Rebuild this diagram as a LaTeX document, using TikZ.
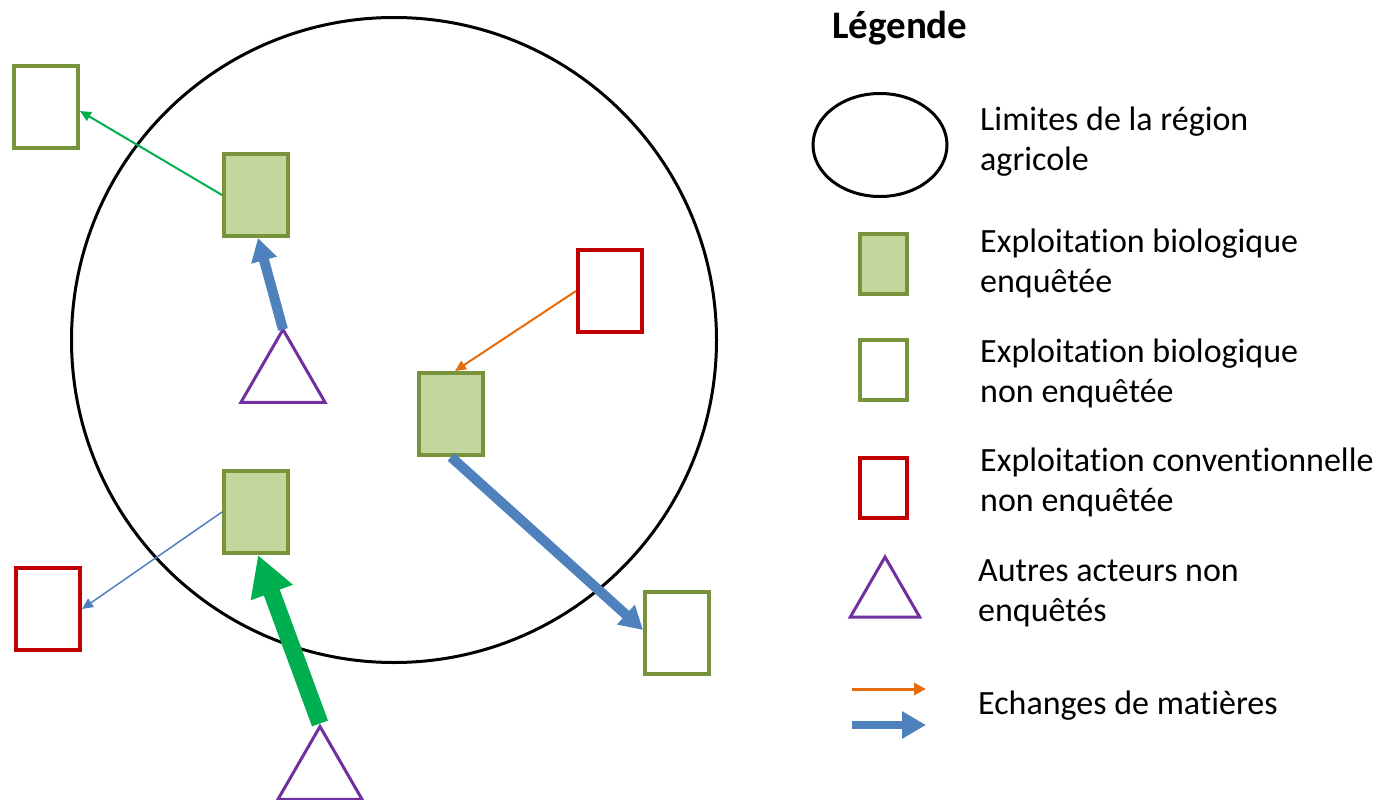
\documentclass[tikz,border=0pt]{standalone}
\usepackage{fontspec}
\setmainfont{Carlito}[Ligatures=NoCommon]
\usetikzlibrary{arrows.meta,shapes.geometric}
\definecolor{bioline}{HTML}{77933C}
\definecolor{biofill}{HTML}{C3D69B}
\definecolor{convred}{HTML}{C00000}
\definecolor{actpurple}{HTML}{7030A0}
\definecolor{flowblue}{HTML}{4F81BD}
\definecolor{flowgreen}{HTML}{00B050}
\definecolor{floworange}{HTML}{E46C0A}
\tikzset{
	farm/.style = {rectangle, line width=4pt, inner sep=0pt,
		minimum width=64pt, minimum height=82pt},
	bio_e/.style = {farm, draw=bioline, fill=biofill},
	bio_n/.style = {farm, draw=bioline, fill=white},
	conv_n/.style = {farm, draw=convred, fill=white},
	leg_farm/.style = {minimum width=47pt, minimum height=60pt},
	actor/.style = {regular polygon, regular polygon sides=3, draw=actpurple,
		line width=3pt, inner sep=0pt, minimum size=97pt},
	flow_s/.style = {line width=2pt, -{Triangle[length=11pt,width=10pt]}},
	flow_m/.style = {line width=10pt, -{Triangle[length=23pt,width=25pt]}},
	flow_l/.style = {line width=17pt, -{Triangle[length=40pt,width=42pt]}},
	legtext/.style = {anchor=west, align=left, inner sep=0pt,
		font=\fontsize{34}{40}\selectfont}
}
\begin{document}
\begin{tikzpicture}[x=1pt,y=-1pt]
\useasboundingbox (0,0) rectangle (1377,800);
% region
\node [circle, draw, line width=3pt, minimum size=645pt] (region) at (394,340) {};
% farms
\node [bio_n] (ext1) at (46,107) {};
\node [bio_e] (boxA) at (256,195) {};
\node [conv_n] (red1) at (610,291) {};
\node [bio_e] (boxB) at (451,414) {};
\node [bio_e] (boxC) at (256,512) {};
\node [conv_n] (red2) at (48,609) {};
\node [bio_n] (ext2) at (677,633) {};
% other actors
\node [actor] (tri1) at (283,378) {};
\node [actor] (tri2) at (320,775) {};
% exchanges
\draw [flow_s, flowgreen] (boxA.west) -- ([yshift=-4pt]ext1.east);
\draw [flow_m, flowblue] ([yshift=-3pt]tri1.corner 1) -- ([xshift=2pt]boxA.south);
\draw [flow_s, floworange] (red1.west) -- ([xshift=4pt]boxB.north);
\draw [flow_m, flowblue] (boxB.south) -- ([yshift=3pt]ext2.west);
\draw [flow_s, flowblue, line width=1.5pt] (boxC.west) -- (red2.east);
\draw [flow_l, flowgreen] (tri2.corner 1) -- ([xshift=2pt]boxC.south);
% legend
\node [anchor=west, inner sep=0pt, font=\fontsize{39}{44}\selectfont\bfseries] (title) at (832,28) {Légende};
\node [ellipse, draw, line width=3pt, minimum width=134pt, minimum height=103pt] (leg1) at (880,145) {};
\node [bio_e, leg_farm] (leg2) at (883,264) {};
\node [bio_n, leg_farm] (leg3) at (883,370) {};
\node [conv_n, leg_farm] (leg4) at (883,488) {};
\node [actor, minimum size=80pt] (leg5) at (885,597) {};
\coordinate (o1) at (852,689);
\coordinate (o2) at (926,689);
\coordinate (b1) at (852,725);
\coordinate (b2) at (926,725);
\draw [floworange, line width=3pt, -{Triangle[length=12pt,width=12pt]}] (o1) -- (o2);
\draw [flowblue, line width=8pt, -{Triangle[length=24pt,width=26pt]}] (b1) -- (b2);
\node [legtext] (t1) at (980,142) {Limites de la région\\agricole};
\node [legtext] (t2) at (980,263) {Exploitation biologique\\enquêtée};
\node [legtext] (t3) at (980,373) {Exploitation biologique\\non enquêtée};
\node [legtext] (t4) at (980,482) {Exploitation conventionnelle\\non enquêtée};
\node [legtext] (t5) at (978,593) {Autres acteurs non\\enquêtés};
\node [legtext] (t6) at (978,706) {Echanges de matières};
\end{tikzpicture}
\end{document}
